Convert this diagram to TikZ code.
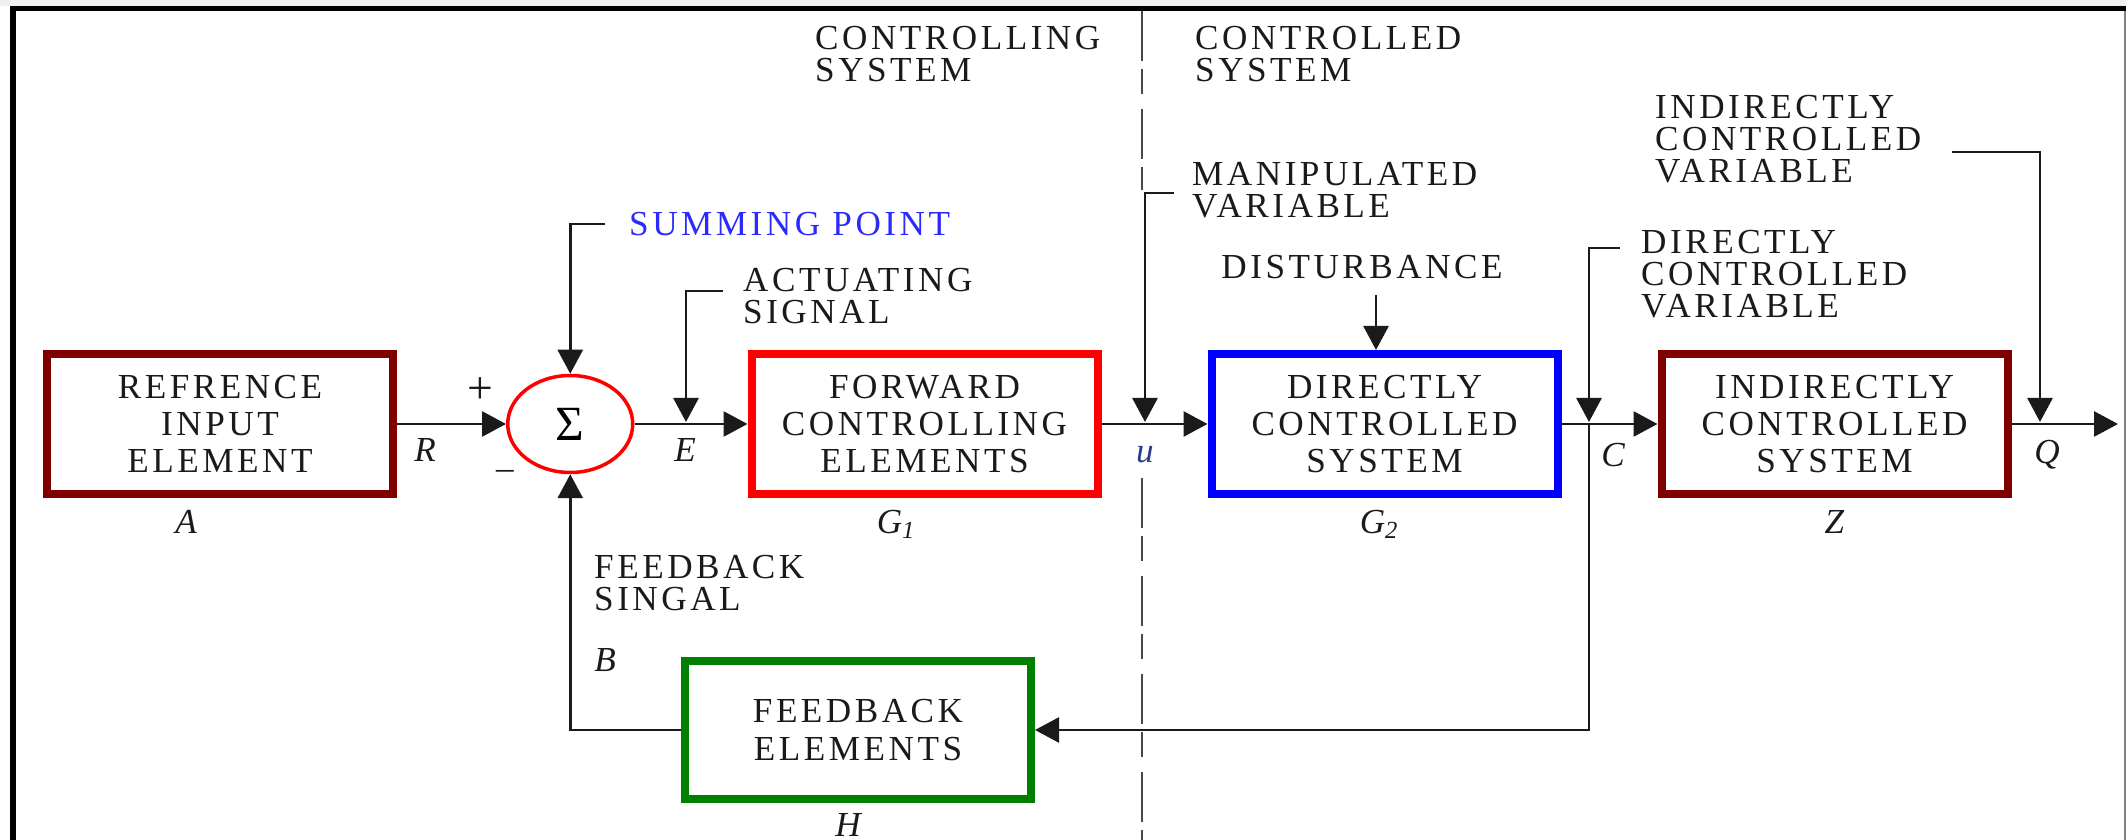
\documentclass[tikz,border=0pt]{standalone}
\usepackage{fontspec}
\setmainfont{Liberation Serif}[LetterSpace=10]
\usetikzlibrary{positioning,arrows.meta,calc,shapes.geometric}
\definecolor{maroon}{HTML}{800000}
\definecolor{bred}{HTML}{FF0000}
\definecolor{bblue}{HTML}{0000FF}
\definecolor{bgreen}{HTML}{008000}
\definecolor{sblue}{HTML}{2A2AFF}
\definecolor{ublue}{HTML}{2A3C8C}
\definecolor{ink}{HTML}{1A1A1A}
\tikzset{
  blk/.style={draw, line width=0.08cm, minimum width=3.46cm, minimum height=1.40cm,
    align=center, inner sep=2pt, fill=white, text=ink,
    font=\fontsize{10pt}{10.6pt}\selectfont},
  arr/.style={-{Triangle[length=0.24cm,width=0.25cm]}, line width=0.8pt, color=ink},
  dline/.style={line width=0.6pt, color=ink!80, dash pattern=on 0.5cm off 0.08cm on 0.25cm off 0.15cm},
  lab/.style={align=left, inner sep=1pt, text=ink, anchor=west},
  sym/.style={inner sep=1pt, text=ink, font=\fontsize{10pt}{10pt}\selectfont\itshape},
}
\begin{document}
\begin{tikzpicture}[font=\fontsize{10pt}{9.1pt}\selectfont]
  \useasboundingbox (0,0) rectangle (21.26,8.40);
  % frame
  \fill[gray!12] (0,8.34) rectangle (21.26,8.40);
  \draw[line width=0.055cm] (0.13,0) -- (0.13,8.315) -- (21.26,8.315);
  \draw[gray, line width=0.02cm] (21.245,0) -- (21.245,8.29);
  % blocks
  \node[blk, draw=maroon] (A) at (2.20,4.16) {REFRENCE\\INPUT\\ELEMENT};
  \node[ellipse, draw=bred, line width=0.035cm, minimum width=1.25cm, minimum height=0.97cm,
    inner sep=0pt, right=1.09cm of A, font=\fontsize{14pt}{14pt}\selectfont] (sum) {Σ};
  \node[blk, draw=bred, right=1.13cm of sum] (G1) {FORWARD\\CONTROLLING\\ELEMENTS};
  \node[blk, draw=bblue, right=1.06cm of G1] (G2) {DIRECTLY\\CONTROLLED\\SYSTEM};
  \node[blk, draw=maroon, right=0.96cm of G2] (Z) {INDIRECTLY\\CONTROLLED\\SYSTEM};
  \node[blk, draw=bgreen, minimum height=1.38cm] (H) at (8.58,1.10) {FEEDBACK\\ELEMENTS};
  % block symbols
  \node[sym, below=0.8mm of A, xshift=-3.4mm] (lA) {A};
  \node[sym, below=0.8mm of G1, xshift=-2.8mm] (lG1) {G\textsubscript{1}};
  \node[sym, below=0.8mm of G2, xshift=-0.5mm] (lG2) {G\textsubscript{2}};
  \node[sym, below=0.8mm of Z] (lZ) {Z};
  \node[sym, below=0.6mm of H, xshift=-1mm] (lH) {H};
  % signal symbols
  \node[sym] (lR) at (4.25,3.90) {R};
  \node[sym] (lE) at (6.85,3.90) {E};
  \node[sym, text=ublue] (lu) at (11.45,3.85) {u};
  \node[sym] (lC) at (16.13,3.85) {C};
  \node[sym] (lQ) at (20.47,3.85) {Q};
  \node[sym] (lB) at (6.05,1.80) {B};
  \node[inner sep=1pt, text=ink, font=\fontsize{13pt}{13pt}\selectfont] (plus) at (4.80,4.49) {+};
  \node[inner sep=1pt, text=ink] (minus) at (5.05,3.65) {\textendash};
  % texts
  \node[lab] (ctrlg) at (8.11,7.86) {CONTROLLING\\SYSTEM};
  \node[lab] (ctrld) at (11.91,7.86) {CONTROLLED\\SYSTEM};
  \node[lab, text=sblue] (sumtxt) at (6.25,6.16) {SUMMING POINT};
  \node[lab] (act) at (7.39,5.44) {ACTUATING\\SIGNAL};
  \node[lab] (man) at (11.88,6.50) {MANIPULATED\\VARIABLE};
  \node[lab, anchor=center] (dist) at (13.62,5.73) {DISTURBANCE};
  \node[lab] (dcv) at (16.37,5.66) {DIRECTLY\\CONTROLLED\\VARIABLE};
  \node[lab] (icv) at (16.51,7.01) {INDIRECTLY\\CONTROLLED\\VARIABLE};
  \node[lab] (fbs) at (5.90,2.57) {FEEDBACK\\SINGAL};
  % points on the main line
  \coordinate (actpt) at (6.86,4.18);
  \coordinate (upt) at (11.45,4.18);
  \coordinate (cpt) at (15.89,4.16);
  \coordinate (ctip) at (15.89,4.18);
  \coordinate (qpt) at (20.40,4.18);
  \coordinate (out) at (21.18,4.16);
  % divider
  \draw[dline] (11.42,8.29) -- (11.42,6.50);
  \draw[dline] (11.42,3.62) -- (11.42,0);
  % main path
  \draw[arr] (A) -- (sum);
  \draw[arr] (sum) -- (G1);
  \draw[arr] (G1) -- (G2);
  \draw[arr] (G2) -- (Z);
  \draw[arr] (Z) -- (out);
  \draw[arr] (cpt) |- (H);
  \draw[arr] (H) -| (sum);
  % leaders
  \draw[arr] ([xshift=-2mm]sumtxt.west) -| (sum.north);
  \draw[arr] ([xshift=-1.6mm,yshift=0.5mm]act.west) -| (actpt);
  \draw[arr] ([xshift=-1.4mm,yshift=-0.3mm]man.west) -| (upt);
  \draw[arr] ([xshift=1.4mm,yshift=-1.2mm]dist.south) -- ([xshift=1.4mm]dist.south |- G2.north);
  \draw[arr] ([xshift=-1.7mm,yshift=2.6mm]dcv.west) -| (ctip);
  \draw[arr] ([xshift=2.7mm,yshift=-1.3mm]icv.east) -| (qpt);
\end{tikzpicture}
\end{document}
